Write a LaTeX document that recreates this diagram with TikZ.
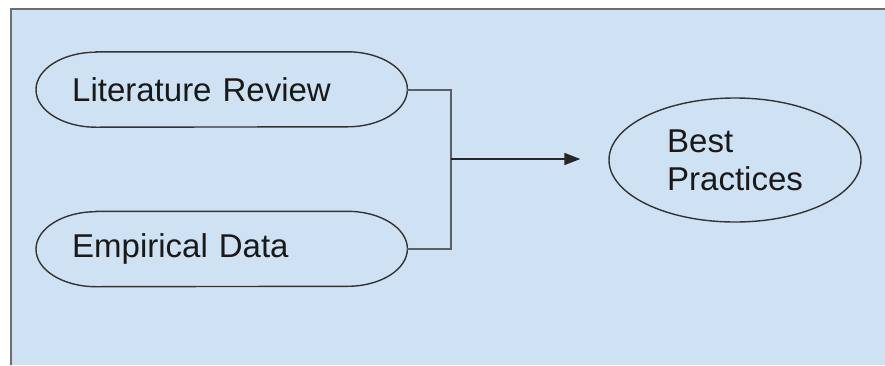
\documentclass[tikz,border=0pt]{standalone}
\usepackage{fontspec}
\setmainfont{Liberation Sans}
\usetikzlibrary{shapes.geometric,arrows.meta}
\definecolor{bgblue}{HTML}{CFE2F3}
\definecolor{framegray}{HTML}{6E6E6E}
\definecolor{linegray}{HTML}{5A5F66}
\tikzset{
  labeltext/.style={font=\fontsize{33}{38}\selectfont, text=black!90},
  stadiumbox/.style={labeltext, rectangle, draw=none, anchor=west, inner xsep=36pt, inner ysep=0pt,
     text width=299pt, align=left, minimum height=75pt},
  outline/.style={draw=black!80, line width=1.4pt},
  bracket/.style={draw=linegray, line width=2pt},
  arrowline/.style={draw=black!85, line width=1.6pt, -{Triangle[length=16pt,width=12pt]}}
}
\newcommand{\stadium}[1]{%
  \draw[outline] ([xshift=60pt]#1.north west) -- ([xshift=-60pt]#1.north east)
    arc[start angle=90,end angle=-90,x radius=60pt,y radius=37.5pt]
    -- ([xshift=60pt]#1.south west)
    arc[start angle=270,end angle=90,x radius=60pt,y radius=37.5pt] -- cycle;}
\begin{document}
\begin{tikzpicture}[x=1pt,y=-1pt]
\useasboundingbox (0,0) rectangle (885,365);
\fill[bgblue] (10,8.5) rectangle (885,365);
\draw[framegray, line width=2pt] (10.5,365) -- (10.5,8.5) -- (885,8.5);

\node[stadiumbox] (lit) at (36,89.5) {Literature Review};
\node[stadiumbox] (emp) at (36,249) {Empirical Data};
\stadium{lit}
\stadium{emp}

\node[labeltext, ellipse, outline, inner sep=0pt, minimum width=252pt, minimum height=124pt,
      align=left] (bp) at (735,160) {Best\\Practices};

\coordinate (j) at (451,159);
\draw[bracket] (lit.east) -| (j) |- (emp.east);
\draw[arrowline, shorten >=28pt] (j) -- (j -| bp.west);
\end{tikzpicture}
\end{document}
